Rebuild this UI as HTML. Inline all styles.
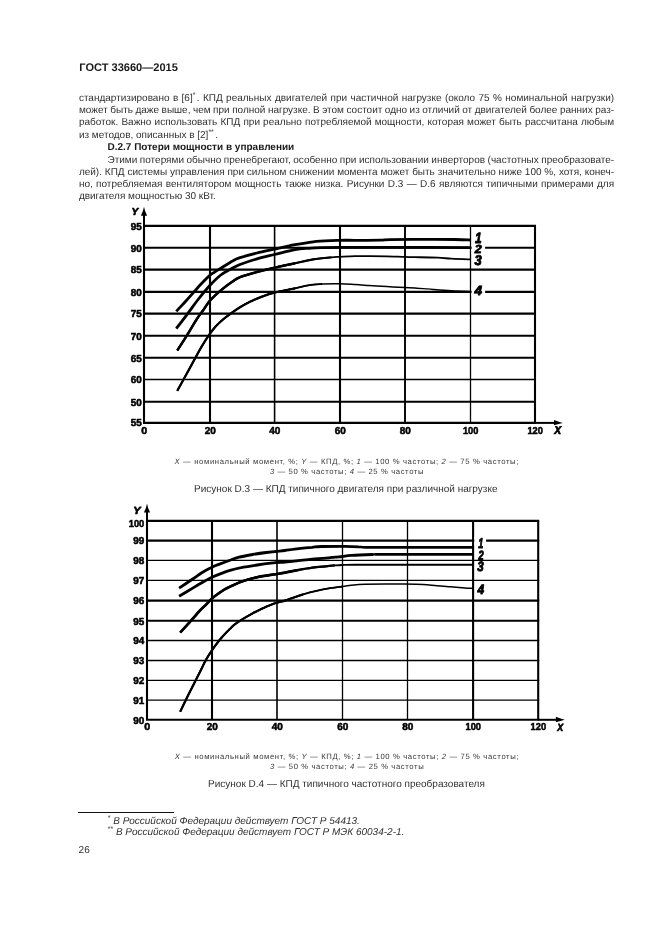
<!DOCTYPE html>
<html lang="ru">
<head>
<meta charset="utf-8">
<title>ГОСТ 33660—2015</title>
<style>
html,body{margin:0;padding:0;background:#fff;}
h1,h2,p,figure,figcaption,header,footer,section{margin:0;padding:0;font-size:inherit;font-weight:inherit;}
h2.ln{font-weight:bold;color:#1a1a1a;}
body{text-rendering:geometricPrecision;-webkit-font-smoothing:antialiased;width:661px;height:936px;position:relative;overflow:hidden;font-family:"Liberation Sans",sans-serif;color:#303030;}
.ln{position:absolute;white-space:nowrap;font-size:10.0px;line-height:12px;height:12px;}
.sup{font-size:7px;position:relative;top:-4px;line-height:0;margin-right:1.3px;}
.hdr{position:absolute;left:79.3px;top:62px;font-size:11.05px;line-height:13px;font-weight:bold;white-space:nowrap;color:#1a1a1a;}
.lg{position:absolute;font-size:7.7px;line-height:10px;letter-spacing:0.61px;white-space:nowrap;color:#383838;}
.cap{position:absolute;font-size:10px;line-height:12px;white-space:nowrap;}
.fn{position:absolute;font-size:10px;line-height:12px;font-style:italic;white-space:nowrap;}
.fn .sup{font-style:normal;margin-right:0;}
.rule{position:absolute;left:78.2px;top:811.7px;width:95.8px;height:1px;background:#111;}
.pn{position:absolute;left:78.6px;top:845px;font-size:10px;line-height:12px;}
svg text{font-family:"Liberation Sans",sans-serif;fill:#000;stroke:#000;stroke-linejoin:round;}
svg text.tk{font-size:10px;font-weight:bold;stroke-width:0.55px;}
svg text.cl{font-size:13px;font-weight:bold;font-style:italic;stroke-width:0.85px;}
svg text.ax{font-size:10.5px;font-weight:bold;font-style:italic;stroke-width:0.7px;}
</style>
</head>
<body>
<h1 class="hdr">ГОСТ 33660—2015</h1>
<p class="ln" style="left:78.90px;top:93px;word-spacing:0.616px">стандартизировано в [6]<span class="sup">*</span>. КПД реальных двигателей при частичной нагрузке (около 75 % номинальной нагрузки)</p>
<p class="ln" style="left:78.90px;top:105px;word-spacing:-0.277px">может быть даже выше, чем при полной нагрузке. В этом состоит одно из отличий от двигателей более ранних раз-</p>
<p class="ln" style="left:78.90px;top:117px;word-spacing:0.370px">работок. Важно использовать КПД при реально потребляемой мощности, которая может быть рассчитана любым</p>
<p class="ln" style="left:78.90px;top:130px;">из методов, описанных в [2]<span class="sup">**</span>.</p>
<h2 class="ln" style="left:107.50px;top:142px;">D.2.7 Потери мощности в управлении</h2>
<p class="ln" style="left:107.50px;top:155px;word-spacing:-0.232px">Этими потерями обычно пренебрегают, особенно при использовании инверторов (частотных преобразовате-</p>
<p class="ln" style="left:78.90px;top:167px;word-spacing:0.076px">лей). КПД системы управления при сильном снижении момента может быть значительно ниже 100 %, хотя, конеч-</p>
<p class="ln" style="left:78.90px;top:179px;word-spacing:0.569px">но, потребляемая вентилятором мощность также низка. Рисунки D.3 — D.6 являются типичными примерами для</p>
<p class="ln" style="left:78.90px;top:191px;">двигателя мощностью 30 кВт.</p>
<svg width="661" height="936" viewBox="0 0 661 936" style="position:absolute;left:0;top:0" stroke="#000" shape-rendering="geometricPrecision">
<g>
<line x1="143.00" y1="225.90" x2="536.00" y2="225.90" stroke-width="2.1"/>
<line x1="143.00" y1="247.70" x2="536.00" y2="247.70" stroke-width="2.1"/>
<line x1="143.00" y1="269.60" x2="536.00" y2="269.60" stroke-width="2.1"/>
<line x1="143.00" y1="291.90" x2="536.00" y2="291.90" stroke-width="2.1"/>
<line x1="143.00" y1="313.60" x2="536.00" y2="313.60" stroke-width="2.1"/>
<line x1="143.00" y1="335.70" x2="536.00" y2="335.70" stroke-width="2.1"/>
<line x1="143.00" y1="357.70" x2="536.00" y2="357.70" stroke-width="2.1"/>
<line x1="143.00" y1="379.50" x2="536.00" y2="379.50" stroke-width="1.3"/>
<line x1="143.00" y1="401.80" x2="536.00" y2="401.80" stroke-width="2.1"/>
<line x1="143.00" y1="422.90" x2="536.00" y2="422.90" stroke-width="2.1"/>
<line x1="144.00" y1="225.90" x2="144.00" y2="422.90" stroke-width="2.1"/>
<line x1="210.00" y1="225.90" x2="210.00" y2="422.90" stroke-width="2.1"/>
<line x1="274.60" y1="225.90" x2="274.60" y2="422.90" stroke-width="1.6"/>
<line x1="340.00" y1="225.90" x2="340.00" y2="422.90" stroke-width="2.1"/>
<line x1="405.00" y1="225.90" x2="405.00" y2="422.90" stroke-width="1.9"/>
<line x1="470.50" y1="225.90" x2="470.50" y2="422.90" stroke-width="1.3"/>
<line x1="535.00" y1="225.90" x2="535.00" y2="422.90" stroke-width="2.1"/>
<line x1="144.00" y1="211.10" x2="144.00" y2="225.90" stroke-width="2"/>
<path d="M144.00,206.70 L145.10,211.10 L147.10,215.80 L140.90,215.80 L142.90,211.10 Z" fill="#000" stroke="none"/>
<line x1="535.00" y1="422.90" x2="558.60" y2="422.90" stroke-width="2"/>
<path d="M562.90,422.90 L558.60,421.70 L554.00,419.90 L554.00,425.30 L558.60,424.00 Z" fill="#000" stroke="none"/>
<path d="M176.3,311.3 C176.9,310.6 178.2,309.3 180.0,307.4 C181.8,305.5 183.8,303.4 186.8,300.0 C189.8,296.6 195.2,290.4 198.1,287.2 C201.0,284.0 202.1,283.0 204.0,281.0 C205.9,279.0 208.0,276.8 209.8,275.3 C211.6,273.8 213.2,273.0 215.0,271.8 C216.8,270.6 217.9,270.0 220.8,268.2 C223.7,266.4 229.4,262.6 232.6,260.9 C235.8,259.1 235.9,259.0 240.0,257.7 C244.1,256.4 251.2,254.4 257.0,253.0 C262.8,251.6 268.2,250.5 274.5,249.1 C280.8,247.7 288.6,245.9 295.0,244.7 C301.4,243.5 307.1,242.5 313.1,241.8 C319.2,241.1 326.8,240.8 331.3,240.6 C335.8,240.3 335.9,240.4 339.9,240.3 C343.8,240.2 348.3,240.3 355.0,240.3 C361.7,240.3 374.2,240.3 380.0,240.2 C385.8,240.1 383.3,239.7 390.0,239.6 C396.7,239.5 409.2,239.4 420.0,239.4 C430.8,239.4 446.6,239.4 455.0,239.5 C463.4,239.6 467.9,239.9 470.5,240.0" fill="none" stroke-width="2.8" stroke-linecap="butt"/>
<path d="M176.3,328.6 C178.2,326.1 184.1,318.5 187.7,313.6 C191.3,308.8 194.4,304.2 198.1,299.5 C201.8,294.8 206.0,289.6 209.8,285.5 C213.6,281.4 217.3,277.7 220.8,275.0 C224.3,272.3 227.6,270.9 230.8,269.1 C234.0,267.4 235.6,266.2 240.0,264.5 C244.4,262.8 251.2,260.5 257.0,258.8 C262.8,257.1 268.2,256.0 274.5,254.5 C280.8,253.0 289.3,250.6 295.0,249.6 C300.7,248.6 304.1,248.6 308.6,248.3 C313.1,248.0 316.8,247.8 322.0,247.6 C327.2,247.4 326.9,247.4 339.9,247.4 C352.9,247.4 378.1,247.4 400.0,247.4 C421.9,247.4 459.6,247.6 471.5,247.6" fill="none" stroke-width="2.8" stroke-linecap="butt"/>
<path d="M177.3,350.4 C178.9,347.9 183.6,340.8 186.8,335.6 C190.1,330.4 193.9,323.5 196.8,319.1 C199.7,314.7 201.8,312.2 204.0,309.1 C206.2,306.1 207.0,303.9 209.8,300.8 C212.6,297.7 217.3,293.4 220.8,290.4 C224.3,287.4 227.6,284.9 230.8,282.7 C234.0,280.5 235.6,279.0 240.0,277.2 C244.4,275.4 251.2,273.6 257.0,272.0 C262.8,270.4 268.2,269.1 274.5,267.7 C280.8,266.2 288.6,264.7 295.0,263.3 C301.4,261.9 307.1,260.4 313.1,259.4 C319.2,258.4 326.8,257.7 331.3,257.3 C335.8,256.9 335.9,257.0 339.9,256.8 C343.8,256.6 350.0,256.2 355.0,256.1 C360.0,256.0 364.7,256.1 370.0,256.1 C375.3,256.2 381.0,256.3 386.8,256.4 C392.6,256.5 400.2,256.8 404.9,256.9 C409.6,257.0 409.5,257.1 415.0,257.2 C420.5,257.3 431.6,257.4 437.7,257.7 C443.8,257.9 445.9,258.4 451.3,258.7 C456.7,259.0 466.9,259.3 470.0,259.4" fill="none" stroke-width="1.8" stroke-linecap="butt"/>
<path d="M177.3,350.4 C178.9,347.9 183.6,340.8 186.8,335.6 C190.1,330.4 193.9,323.5 196.8,319.1 C199.7,314.7 201.8,312.2 204.0,309.1 C206.2,306.1 207.0,303.9 209.8,300.8 C212.6,297.7 217.3,293.4 220.8,290.4 C224.3,287.4 227.6,284.9 230.8,282.7 C234.0,280.5 235.6,279.0 240.0,277.2 C244.4,275.4 251.2,273.6 257.0,272.0 C262.8,270.4 268.2,269.1 274.5,267.7 C280.8,266.2 288.6,264.7 295.0,263.3 C301.4,261.9 307.1,260.4 313.1,259.4 C319.2,258.4 328.3,257.6 331.3,257.3" fill="none" stroke-width="2.1" stroke-linecap="butt"/>
<path d="M177.3,350.4 C178.9,347.9 183.6,340.8 186.8,335.6 C190.1,330.4 193.9,323.5 196.8,319.1 C199.7,314.7 201.8,312.2 204.0,309.1 C206.2,306.1 207.0,303.9 209.8,300.8 C212.6,297.7 217.3,293.4 220.8,290.4 C224.3,287.4 227.6,284.9 230.8,282.7 C234.0,280.5 235.6,279.0 240.0,277.2 C244.4,275.4 251.2,273.6 257.0,272.0 C262.8,270.4 268.2,269.1 274.5,267.7 C280.8,266.2 291.6,264.0 295.0,263.3" fill="none" stroke-width="2.5" stroke-linecap="butt"/>
<path d="M177.3,390.8 C178.3,388.9 181.5,383.3 183.5,379.6 C185.5,375.9 187.5,372.2 189.5,368.6 C191.5,365.0 193.3,361.7 195.3,358.0 C197.3,354.3 199.2,350.6 201.6,346.6 C204.0,342.6 207.2,337.6 209.6,334.2 C212.0,330.8 213.5,328.8 215.8,326.3 C218.1,323.8 221.1,321.1 223.6,319.0 C226.1,316.9 228.1,315.5 230.8,313.5 C233.5,311.5 236.8,309.2 240.0,307.2 C243.2,305.2 246.3,303.5 250.0,301.7 C253.7,299.9 257.9,298.1 262.0,296.6 C266.1,295.1 269.0,294.0 274.5,292.6 C280.0,291.2 289.3,289.5 295.0,288.3 C300.7,287.1 304.1,286.0 308.6,285.3 C313.1,284.6 317.0,284.3 322.2,284.0 C327.4,283.7 334.4,283.6 339.9,283.7 C345.4,283.8 350.2,284.2 355.0,284.5 C359.8,284.8 363.3,285.1 368.6,285.5 C373.9,285.9 380.8,286.3 386.8,286.6 C392.9,286.9 400.2,287.3 404.9,287.5 C409.6,287.7 410.3,287.6 415.0,287.9 C419.7,288.2 427.1,288.9 433.1,289.4 C439.2,289.9 445.2,290.4 451.3,290.7 C457.4,291.0 466.9,291.3 470.0,291.4" fill="none" stroke-width="1.5" stroke-linecap="butt"/>
<path d="M177.3,390.8 C178.3,388.9 181.5,383.3 183.5,379.6 C185.5,375.9 187.5,372.2 189.5,368.6 C191.5,365.0 193.3,361.7 195.3,358.0 C197.3,354.3 199.2,350.6 201.6,346.6 C204.0,342.6 207.2,337.6 209.6,334.2 C212.0,330.8 213.5,328.8 215.8,326.3 C218.1,323.8 221.1,321.1 223.6,319.0 C226.1,316.9 228.1,315.5 230.8,313.5 C233.5,311.5 236.8,309.2 240.0,307.2 C243.2,305.2 246.3,303.5 250.0,301.7 C253.7,299.9 257.9,298.1 262.0,296.6 C266.1,295.1 269.0,294.0 274.5,292.6 C280.0,291.2 289.3,289.5 295.0,288.3 C300.7,287.1 304.1,286.0 308.6,285.3 C313.1,284.6 319.9,284.2 322.2,284.0" fill="none" stroke-width="1.8" stroke-linecap="butt"/>
<path d="M177.3,390.8 C178.3,388.9 181.5,383.3 183.5,379.6 C185.5,375.9 187.5,372.2 189.5,368.6 C191.5,365.0 193.3,361.7 195.3,358.0 C197.3,354.3 199.2,350.6 201.6,346.6 C204.0,342.6 207.2,337.6 209.6,334.2 C212.0,330.8 213.5,328.8 215.8,326.3 C218.1,323.8 221.1,321.1 223.6,319.0 C226.1,316.9 228.1,315.5 230.8,313.5 C233.5,311.5 236.8,309.2 240.0,307.2 C243.2,305.2 246.3,303.5 250.0,301.7 C253.7,299.9 257.9,298.1 262.0,296.6 C266.1,295.1 269.0,294.0 274.5,292.6 C280.0,291.2 291.6,289.0 295.0,288.3" fill="none" stroke-width="2.2" stroke-linecap="butt"/>
<rect x="471.60" y="244.00" width="13.50" height="10.00" fill="#fff" stroke="none"/>
<rect x="471.60" y="286.00" width="13.50" height="10.00" fill="#fff" stroke="none"/>
<text class="cl" transform="matrix(0.9117,0,0,1.1486,474.92,242.60)">1</text>
<text class="cl" transform="matrix(0.9584,0,0,0.9044,474.70,253.46)">2</text>
<text class="cl" transform="matrix(0.9909,0,0,1.0872,474.46,265.28)">3</text>
<text class="cl" transform="matrix(1.0513,0,0,1.0221,474.45,295.43)">4</text>
<text class="tk" transform="matrix(0.9898,0,0,1.0133,130.70,229.70)">95</text>
<text class="tk" transform="matrix(0.9898,0,0,1.0133,130.70,251.50)">90</text>
<text class="tk" transform="matrix(0.9898,0,0,1.0133,130.70,273.40)">85</text>
<text class="tk" transform="matrix(0.9898,0,0,1.0133,130.70,295.70)">80</text>
<text class="tk" transform="matrix(0.9898,0,0,1.0133,130.70,317.40)">75</text>
<text class="tk" transform="matrix(0.9898,0,0,1.0133,130.70,339.50)">70</text>
<text class="tk" transform="matrix(0.9898,0,0,1.0133,130.70,361.50)">65</text>
<text class="tk" transform="matrix(0.9898,0,0,1.0133,130.70,383.30)">60</text>
<text class="tk" transform="matrix(0.9898,0,0,1.0133,130.70,405.60)">50</text>
<text class="tk" transform="matrix(0.9898,0,0,1.0133,130.70,426.10)">55</text>
<text class="tk" transform="matrix(1.0667,0,0,1.0133,141.29,433.50)">0</text>
<text class="tk" transform="matrix(0.9991,0,0,1.0133,204.70,433.50)">20</text>
<text class="tk" transform="matrix(0.9991,0,0,1.0133,269.30,433.50)">40</text>
<text class="tk" transform="matrix(0.9991,0,0,1.0133,334.70,433.50)">60</text>
<text class="tk" transform="matrix(0.9991,0,0,1.0133,399.70,433.50)">80</text>
<text class="tk" transform="matrix(0.9272,0,0,1.0133,462.88,433.50)">100</text>
<text class="tk" transform="matrix(0.9272,0,0,1.0133,527.38,433.50)">120</text>
<text class="ax" transform="matrix(0.9658,0,0,0.9654,131.39,214.80)">Y</text>
<text class="ax" transform="matrix(0.9877,0,0,1.0698,554.33,433.68)">X</text>
</g>
<g>
<line x1="146.00" y1="520.90" x2="539.20" y2="520.90" stroke-width="2.1"/>
<line x1="146.00" y1="540.60" x2="539.20" y2="540.60" stroke-width="2.1"/>
<line x1="146.00" y1="560.40" x2="539.20" y2="560.40" stroke-width="1.3"/>
<line x1="146.00" y1="580.30" x2="539.20" y2="580.30" stroke-width="1.3"/>
<line x1="146.00" y1="600.60" x2="539.20" y2="600.60" stroke-width="2.1"/>
<line x1="146.00" y1="620.80" x2="539.20" y2="620.80" stroke-width="2.1"/>
<line x1="146.00" y1="640.50" x2="539.20" y2="640.50" stroke-width="1.3"/>
<line x1="146.00" y1="660.50" x2="539.20" y2="660.50" stroke-width="1.3"/>
<line x1="146.00" y1="680.40" x2="539.20" y2="680.40" stroke-width="1.3"/>
<line x1="146.00" y1="700.10" x2="539.20" y2="700.10" stroke-width="1.3"/>
<line x1="146.00" y1="719.80" x2="539.20" y2="719.80" stroke-width="2.1"/>
<line x1="147.00" y1="520.90" x2="147.00" y2="719.80" stroke-width="2.1"/>
<line x1="212.00" y1="520.90" x2="212.00" y2="719.80" stroke-width="2.1"/>
<line x1="277.00" y1="520.90" x2="277.00" y2="719.80" stroke-width="1.6"/>
<line x1="342.50" y1="520.90" x2="342.50" y2="719.80" stroke-width="1.3"/>
<line x1="407.50" y1="520.90" x2="407.50" y2="719.80" stroke-width="1.3"/>
<line x1="473.10" y1="520.90" x2="473.10" y2="719.80" stroke-width="2.1"/>
<line x1="538.20" y1="520.90" x2="538.20" y2="719.80" stroke-width="2.1"/>
<line x1="147.00" y1="507.90" x2="147.00" y2="520.90" stroke-width="2"/>
<path d="M147.00,503.50 L148.10,507.90 L150.10,512.60 L143.90,512.60 L145.90,507.90 Z" fill="#000" stroke="none"/>
<line x1="538.20" y1="719.80" x2="560.50" y2="719.80" stroke-width="2"/>
<path d="M564.80,719.80 L560.50,718.60 L555.90,716.80 L555.90,722.20 L560.50,720.90 Z" fill="#000" stroke="none"/>
<path d="M179.1,588.1 C181.4,586.6 188.9,581.6 192.7,579.0 C196.5,576.4 198.6,574.7 201.8,572.7 C205.0,570.7 208.7,568.7 211.9,567.2 C215.1,565.7 217.8,564.8 220.8,563.6 C223.8,562.4 226.9,561.3 230.0,560.2 C233.1,559.1 235.3,558.2 239.1,557.2 C242.9,556.2 248.2,555.3 252.7,554.5 C257.2,553.7 262.3,553.0 266.3,552.5 C270.3,552.0 273.8,551.6 276.9,551.3 C280.0,551.0 281.4,551.0 285.0,550.5 C288.6,550.0 294.1,549.1 298.6,548.6 C303.1,548.1 308.4,547.6 312.2,547.3 C316.0,546.9 315.8,546.6 321.3,546.5 C326.8,546.4 338.8,546.4 345.0,546.4 C351.2,546.4 355.1,546.6 358.6,546.8 C362.1,546.9 359.1,547.2 366.0,547.3 C372.9,547.4 382.2,547.4 400.0,547.4 C417.8,547.4 460.8,547.4 473.0,547.4" fill="none" stroke-width="2.8" stroke-linecap="butt"/>
<path d="M179.1,596.3 C181.4,594.9 188.9,590.4 192.7,588.1 C196.5,585.8 198.6,584.5 201.8,582.7 C205.0,580.9 208.7,578.7 211.9,577.2 C215.1,575.7 217.8,574.7 220.8,573.6 C223.8,572.5 226.2,571.5 230.0,570.4 C233.8,569.3 239.1,568.1 243.6,567.2 C248.1,566.3 252.7,565.7 257.2,565.0 C261.7,564.3 267.5,563.5 270.8,563.1 C274.1,562.7 274.5,562.7 276.9,562.5 C279.3,562.3 281.4,562.3 285.0,562.0 C288.6,561.7 294.1,561.2 298.6,560.7 C303.1,560.2 307.7,559.6 312.2,559.2 C316.7,558.8 322.0,558.5 325.8,558.1 C329.6,557.8 332.1,557.4 334.9,557.1 C337.7,556.8 339.6,556.8 342.4,556.5 C345.1,556.2 346.4,555.7 351.4,555.4 C356.4,555.1 366.6,554.7 372.2,554.5 C377.8,554.3 368.2,554.3 385.0,554.3 C401.8,554.3 458.3,554.3 473.0,554.3" fill="none" stroke-width="2.8" stroke-linecap="butt"/>
<path d="M180.2,632.5 C181.8,630.7 186.7,625.5 190.0,621.8 C193.3,618.1 197.3,613.4 200.0,610.5 C202.7,607.6 204.3,606.4 206.3,604.4 C208.3,602.4 209.8,600.4 211.9,598.5 C214.0,596.6 216.9,594.6 219.0,593.1 C221.1,591.6 222.6,590.6 224.4,589.5 C226.2,588.4 227.6,587.9 230.0,586.7 C232.4,585.6 236.1,583.8 239.1,582.6 C242.1,581.4 245.1,580.4 248.1,579.5 C251.1,578.6 253.4,578.0 257.2,577.2 C261.0,576.4 267.5,575.4 270.8,574.9 C274.1,574.4 274.5,574.4 276.9,574.0 C279.3,573.6 281.4,573.3 285.0,572.6 C288.6,571.9 294.1,570.7 298.6,569.9 C303.1,569.1 307.7,568.3 312.2,567.7 C316.7,567.1 322.0,566.7 325.8,566.3 C329.6,565.9 332.1,565.6 334.9,565.4 C337.7,565.2 339.0,565.1 342.4,565.0 C345.8,564.9 345.4,564.8 355.0,564.7 C364.6,564.7 380.3,564.7 400.0,564.7 C419.7,564.7 460.8,564.7 473.0,564.7" fill="none" stroke-width="1.9" stroke-linecap="butt"/>
<path d="M180.2,632.5 C181.8,630.7 186.7,625.5 190.0,621.8 C193.3,618.1 197.3,613.4 200.0,610.5 C202.7,607.6 204.3,606.4 206.3,604.4 C208.3,602.4 209.8,600.4 211.9,598.5 C214.0,596.6 216.9,594.6 219.0,593.1 C221.1,591.6 222.6,590.6 224.4,589.5 C226.2,588.4 227.6,587.9 230.0,586.7 C232.4,585.6 236.1,583.8 239.1,582.6 C242.1,581.4 245.1,580.4 248.1,579.5 C251.1,578.6 253.4,578.0 257.2,577.2 C261.0,576.4 267.5,575.4 270.8,574.9 C274.1,574.4 274.5,574.4 276.9,574.0 C279.3,573.6 281.4,573.3 285.0,572.6 C288.6,571.9 294.1,570.7 298.6,569.9 C303.1,569.1 307.7,568.3 312.2,567.7 C316.7,567.1 322.0,566.7 325.8,566.3 C329.6,565.9 333.4,565.5 334.9,565.4" fill="none" stroke-width="2.2" stroke-linecap="butt"/>
<path d="M180.2,632.5 C181.8,630.7 186.7,625.5 190.0,621.8 C193.3,618.1 197.3,613.4 200.0,610.5 C202.7,607.6 204.3,606.4 206.3,604.4 C208.3,602.4 209.8,600.4 211.9,598.5 C214.0,596.6 216.9,594.6 219.0,593.1 C221.1,591.6 222.6,590.6 224.4,589.5 C226.2,588.4 227.6,587.9 230.0,586.7 C232.4,585.6 236.1,583.8 239.1,582.6 C242.1,581.4 245.1,580.4 248.1,579.5 C251.1,578.6 253.4,578.0 257.2,577.2 C261.0,576.4 267.5,575.4 270.8,574.9 C274.1,574.4 274.5,574.4 276.9,574.0 C279.3,573.6 281.4,573.3 285.0,572.6 C288.6,571.9 296.3,570.4 298.6,569.9" fill="none" stroke-width="2.6" stroke-linecap="butt"/>
<path d="M180.2,711.7 C181.2,709.6 184.4,702.9 186.3,699.0 C188.2,695.1 190.1,691.4 191.8,688.1 C193.5,684.8 194.6,682.4 196.3,679.1 C198.0,675.8 200.2,671.4 201.8,668.2 C203.4,665.0 204.3,662.8 206.0,659.8 C207.7,656.8 209.7,653.6 211.9,650.4 C214.1,647.2 216.9,643.4 219.0,640.8 C221.1,638.1 222.6,636.5 224.4,634.5 C226.2,632.5 228.4,630.4 230.0,628.8 C231.6,627.2 232.2,626.4 234.1,624.9 C236.0,623.4 238.3,621.8 241.3,619.9 C244.3,618.0 248.9,615.4 252.2,613.6 C255.5,611.8 258.3,610.4 261.3,609.0 C264.3,607.6 267.8,606.0 270.4,605.0 C273.0,604.0 274.5,603.4 276.9,602.7 C279.3,602.0 282.9,601.2 285.0,600.6 C287.1,600.0 286.5,600.0 289.5,599.0 C292.5,598.0 298.6,595.8 303.1,594.4 C307.7,593.0 312.2,591.8 316.8,590.8 C321.4,589.8 326.1,588.8 330.4,588.1 C334.7,587.4 338.5,587.0 342.4,586.5 C346.3,586.0 350.2,585.3 354.0,584.9 C357.8,584.5 359.8,584.4 365.0,584.2 C370.2,584.1 378.3,584.0 385.0,584.0 C391.7,584.0 398.6,583.9 405.0,584.0 C411.4,584.1 417.8,584.2 423.1,584.5 C428.4,584.8 432.2,585.4 436.8,585.8 C441.4,586.2 445.7,586.4 450.4,586.7 C455.1,587.1 461.2,587.6 465.0,587.9 C468.8,588.2 471.7,588.2 473.0,588.3" fill="none" stroke-width="1.5" stroke-linecap="butt"/>
<path d="M180.2,711.7 C181.2,709.6 184.4,702.9 186.3,699.0 C188.2,695.1 190.1,691.4 191.8,688.1 C193.5,684.8 194.6,682.4 196.3,679.1 C198.0,675.8 200.2,671.4 201.8,668.2 C203.4,665.0 204.3,662.8 206.0,659.8 C207.7,656.8 209.7,653.6 211.9,650.4 C214.1,647.2 216.9,643.4 219.0,640.8 C221.1,638.1 222.6,636.5 224.4,634.5 C226.2,632.5 228.4,630.4 230.0,628.8 C231.6,627.2 232.2,626.4 234.1,624.9 C236.0,623.4 238.3,621.8 241.3,619.9 C244.3,618.0 248.9,615.4 252.2,613.6 C255.5,611.8 258.3,610.4 261.3,609.0 C264.3,607.6 267.8,606.0 270.4,605.0 C273.0,604.0 274.5,603.4 276.9,602.7 C279.3,602.0 282.9,601.2 285.0,600.6 C287.1,600.0 286.5,600.0 289.5,599.0 C292.5,598.0 298.6,595.8 303.1,594.4 C307.7,593.0 312.2,591.8 316.8,590.8 C321.4,589.8 326.1,588.8 330.4,588.1 C334.7,587.4 340.4,586.8 342.4,586.5" fill="none" stroke-width="1.8" stroke-linecap="butt"/>
<path d="M180.2,711.7 C181.2,709.6 184.4,702.9 186.3,699.0 C188.2,695.1 190.1,691.4 191.8,688.1 C193.5,684.8 194.6,682.4 196.3,679.1 C198.0,675.8 200.2,671.4 201.8,668.2 C203.4,665.0 204.3,662.8 206.0,659.8 C207.7,656.8 209.7,653.6 211.9,650.4 C214.1,647.2 216.9,643.4 219.0,640.8 C221.1,638.1 222.6,636.5 224.4,634.5 C226.2,632.5 228.4,630.4 230.0,628.8 C231.6,627.2 232.2,626.4 234.1,624.9 C236.0,623.4 238.3,621.8 241.3,619.9 C244.3,618.0 248.9,615.4 252.2,613.6 C255.5,611.8 258.3,610.4 261.3,609.0 C264.3,607.6 267.8,606.0 270.4,605.0 C273.0,604.0 274.5,603.4 276.9,602.7 C279.3,602.0 282.9,601.2 285.0,600.6 C287.1,600.0 286.5,600.0 289.5,599.0 C292.5,598.0 300.8,595.2 303.1,594.4" fill="none" stroke-width="2.2" stroke-linecap="butt"/>
<rect x="474.30" y="537.00" width="11.80" height="8.00" fill="#fff" stroke="none"/>
<text class="cl" transform="matrix(0.6980,0,0,1.0854,478.29,547.92)">1</text>
<text class="cl" transform="matrix(0.7566,0,0,1.0291,478.19,559.63)">2</text>
<text class="cl" transform="matrix(0.8866,0,0,1.0462,477.23,571.19)">3</text>
<text class="cl" transform="matrix(0.9231,0,0,1.0327,477.48,593.63)">4</text>
<text class="tk" transform="matrix(0.9272,0,0,1.0133,128.73,526.70)">100</text>
<text class="tk" transform="matrix(0.9898,0,0,1.0133,133.20,544.40)">99</text>
<text class="tk" transform="matrix(0.9898,0,0,1.0133,133.20,564.20)">98</text>
<text class="tk" transform="matrix(0.9898,0,0,1.0133,133.20,584.10)">97</text>
<text class="tk" transform="matrix(0.9898,0,0,1.0133,133.20,604.40)">96</text>
<text class="tk" transform="matrix(0.9898,0,0,1.0133,133.20,624.60)">95</text>
<text class="tk" transform="matrix(0.9898,0,0,1.0133,133.20,644.30)">94</text>
<text class="tk" transform="matrix(0.9898,0,0,1.0133,133.20,664.30)">93</text>
<text class="tk" transform="matrix(0.9898,0,0,1.0133,133.20,684.20)">92</text>
<text class="tk" transform="matrix(0.9898,0,0,1.0133,133.20,703.90)">91</text>
<text class="tk" transform="matrix(0.9898,0,0,1.0133,133.20,723.60)">90</text>
<text class="tk" transform="matrix(1.0667,0,0,1.0133,144.29,730.40)">0</text>
<text class="tk" transform="matrix(0.9991,0,0,1.0133,206.70,730.40)">20</text>
<text class="tk" transform="matrix(0.9991,0,0,1.0133,271.70,730.40)">40</text>
<text class="tk" transform="matrix(0.9991,0,0,1.0133,337.20,730.40)">60</text>
<text class="tk" transform="matrix(0.9991,0,0,1.0133,402.20,730.40)">80</text>
<text class="tk" transform="matrix(0.9272,0,0,1.0133,465.48,730.40)">100</text>
<text class="tk" transform="matrix(0.9272,0,0,1.0133,530.58,730.40)">120</text>
<text class="ax" transform="matrix(1.0463,0,0,0.9785,133.34,513.59)">Y</text>
<text class="ax" transform="matrix(0.8466,0,0,0.9915,557.22,730.79)">X</text>
</g>
</svg>
<p class="lg" style="left:174.60px;top:457px;letter-spacing:0.626px"><i>X</i> — номинальный момент, %; <i>Y</i> — КПД, %; <i>1</i> — 100 % частоты; <i>2</i> — 75 % частоты;</p>
<p class="lg" style="left:269.90px;top:467px"><i>3</i> — 50 % частоты; <i>4</i> — 25 % частоты</p>
<p class="cap" style="left:194.1px;top:484px">Рисунок D.3 — КПД типичного двигателя при различной нагрузке</p>
<p class="lg" style="left:174.80px;top:752px;letter-spacing:0.626px"><i>X</i> — номинальный момент, %; <i>Y</i> — КПД, %; <i>1</i> — 100 % частоты; <i>2</i> — 75 % частоты;</p>
<p class="lg" style="left:270.10px;top:762px"><i>3</i> — 50 % частоты; <i>4</i> — 25 % частоты</p>
<p class="cap" style="left:208.1px;top:779px">Рисунок D.4 — КПД типичного частотного преобразователя</p>
<div class="rule"></div>
<p class="fn" style="left:107.7px;top:816px"><span class="sup">*</span> В Российской Федерации действует ГОСТ Р 54413.</p>
<p class="fn" style="left:107.7px;top:827px"><span class="sup">**</span> В Российской Федерации действует ГОСТ Р МЭК 60034-2-1.</p>
<div class="pn">26</div>
</body>
</html>
